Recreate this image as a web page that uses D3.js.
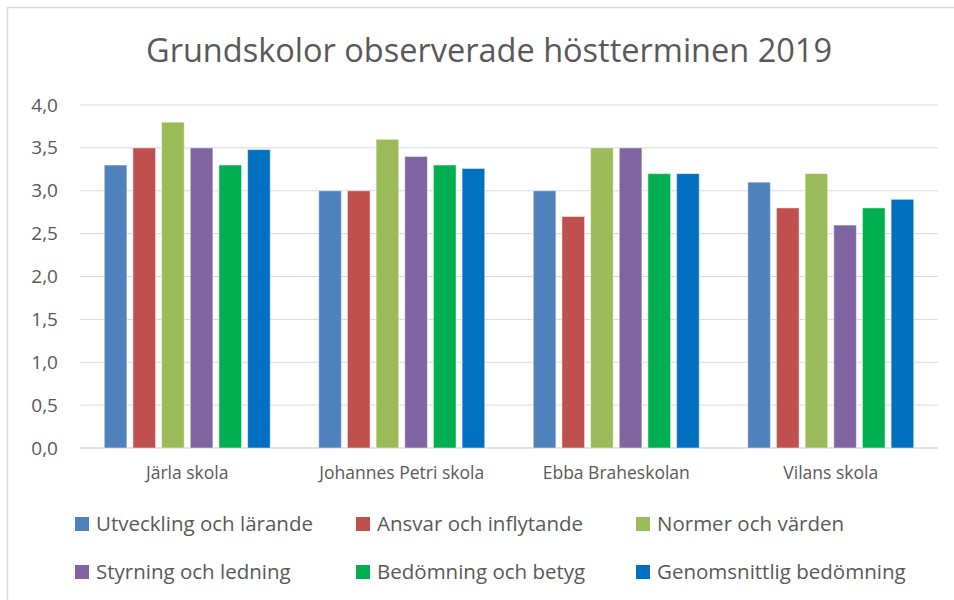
<!DOCTYPE html>
<html>
<head>
<meta charset="utf-8">
<script src="https://cdn.jsdelivr.net/npm/d3@7"></script>
<style>
  body { margin: 0; background: #fff; }
  svg { display: block; font-family: "Open Sans", sans-serif; }
</style>
</head>
<body>
<div id="chart"></div>
<script>
var schools = ["Järla skola", "Johannes Petri skola", "Ebba Braheskolan", "Vilans skola"];
var seriesNames = ["Utveckling och lärande", "Ansvar och inflytande", "Normer och värden",
                   "Styrning och ledning", "Bedömning och betyg", "Genomsnittlig bedömning"];
var colors = ["#4F81BD", "#C0504D", "#9BBB59", "#8064A2", "#00B050", "#0070C0"];

// one array per school, in series order
var jarla   = [3.3, 3.5, 3.8, 3.5, 3.3, 3.48];
var petri   = [3.0, 3.0, 3.6, 3.4, 3.3, 3.26];
var ebba    = [3.0, 2.7, 3.5, 3.5, 3.2, 3.2];
var vilans  = [3.1, 2.8, 3.2, 2.6, 2.8, 2.9];
var values = [jarla, petri, ebba, vilans];

var yTicks = [0, 0.5, 1, 1.5, 2, 2.5, 3, 3.5, 4];

var width = 954, height = 600;
var margin = {left: 80, right: 16, top: 105, bottom: 152};

var svg = d3.select("#chart").append("svg")
    .attr("width", width)
    .attr("height", height);

// chart frame (only top and left edges visible)
svg.append("path")
    .attr("d", "M7.5,600 V7.5 H954")
    .attr("fill", "none")
    .attr("stroke", "#d9d9d9")
    .attr("stroke-width", 1.5);

svg.append("text")
    .attr("x", 489)
    .attr("y", 62)
    .attr("text-anchor", "middle")
    .attr("font-size", 32.5)
    .attr("fill", "#595959")
    .text("Grundskolor observerade höstterminen 2019");

var y = d3.scaleLinear()
    .domain([0, 4])
    .range([height - margin.bottom, margin.top]);

var x0 = d3.scaleBand()
    .domain(schools)
    .range([margin.left, width - margin.right])
    .padding(0);

var inner = 166;
var x1 = d3.scaleBand()
    .domain(d3.range(seriesNames.length))
    .range([(x0.bandwidth() - inner) / 2, (x0.bandwidth() + inner) / 2])
    .paddingInner(0.21);

// gridlines
svg.append("g")
  .selectAll("line")
    .data(yTicks)
  .enter().append("line")
    .attr("x1", margin.left)
    .attr("x2", width - margin.right)
    .attr("y1", function(d) { return y(d); })
    .attr("y2", function(d) { return y(d); })
    .attr("stroke", "#d9d9d9")
    .attr("stroke-width", function(d) { return d === 0 ? 1.5 : 1; });

// y axis labels
var yAxis = d3.axisLeft(y)
    .tickValues(yTicks)
    .tickSize(0)
    .tickPadding(0)
    .tickFormat(function(d) { return d3.format(".1f")(d).replace(".", ","); });

svg.append("g")
    .attr("transform", "translate(58,0)")
    .call(yAxis)
    .call(function(g) { g.select(".domain").remove(); })
    .selectAll("text")
      .attr("font-family", "Open Sans, sans-serif")
      .attr("font-size", 19)
      .attr("fill", "#595959");

// bars
var groups = svg.append("g")
  .selectAll("g")
    .data(schools)
  .enter().append("g")
    .attr("transform", function(d) { return "translate(" + x0(d) + ",0)"; });

groups.selectAll("rect")
    .data(function(d, i) { return values[i].map(function(v, j) { return {s: j, v: v}; }); })
  .enter().append("rect")
    .attr("x", function(d) { return x1(d.s); })
    .attr("width", x1.bandwidth())
    .attr("y", function(d) { return y(d.v); })
    .attr("height", function(d) { return y(0) - y(d.v); })
    .attr("fill", function(d) { return colors[d.s]; })
    .attr("stroke", "#fff")
    .attr("stroke-opacity", 0.5)
    .attr("stroke-width", 1);

// category axis
var xAxis = d3.axisBottom(x0).tickSize(0).tickPadding(0);
svg.append("g")
    .attr("transform", "translate(0," + (y(0) + 19) + ")")
    .call(xAxis)
    .call(function(g) { g.select(".domain").remove(); })
    .selectAll("text")
      .attr("font-family", "Open Sans, sans-serif")
      .attr("font-size", 17.5)
      .attr("fill", "#595959");

// legend
var legendX = [75, 356, 636];
var legendY = [524, 572];
var legend = svg.append("g")
  .selectAll("g")
    .data(seriesNames)
  .enter().append("g")
    .attr("transform", function(d, i) {
      return "translate(" + legendX[i % 3] + "," + legendY[Math.floor(i / 3)] + ")";
    });

legend.append("rect")
    .attr("x", 0)
    .attr("y", -7)
    .attr("width", 14)
    .attr("height", 14)
    .attr("fill", function(d, i) { return colors[i]; });

legend.append("text")
    .attr("x", 21)
    .attr("y", 0)
    .attr("dy", "0.35em")
    .attr("font-size", 20.5)
    .attr("fill", "#595959")
    .text(function(d) { return d; });
</script>
</body>
</html>
